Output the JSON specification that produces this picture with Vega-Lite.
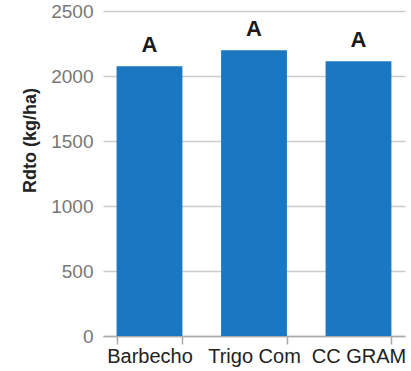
{
  "$schema": "https://vega.github.io/schema/vega-lite/v6.json",
  "width": 302,
  "height": 325,
  "autosize": {"type": "none"},
  "padding": {"left": 103, "top": 11, "right": 6, "bottom": 35},
  "background": "white",
  "config": {"view": {"stroke": null}, "font": "Liberation Sans"},
  "data": {
    "values": [
      {"trat": "Barbecho", "rdto": 2075, "letra": "A"},
      {"trat": "Trigo Com", "rdto": 2198, "letra": "A"},
      {"trat": "CC GRAM", "rdto": 2113, "letra": "A"}
    ]
  },
  "encoding": {
    "x": {
      "field": "trat",
      "type": "nominal",
      "sort": null,
      "scale": {"paddingInner": 0.37, "paddingOuter": 0.13},
      "axis": {
        "title": null,
        "labelAngle": 0,
        "labelFont": "Liberation Sans",
        "labelFontSize": 20,
        "labelColor": "#222",
        "labelPadding": 2,
        "domainColor": "#aaa",
        "domainWidth": 1.5,
        "tickColor": "#aaa",
        "tickWidth": 1.5,
        "tickSize": 8,
        "tickBand": "extent",
        "grid": false
      }
    },
    "y": {
      "field": "rdto",
      "type": "quantitative",
      "scale": {"domain": [0, 2500], "nice": false},
      "axis": {
        "title": "Rdto (kg/ha)",
        "titleFontSize": 18,
        "titleFontWeight": "bold",
        "titleColor": "#222",
        "titleAngle": -90,
        "titleX": -73,
        "titleY": 129,
        "titleAlign": "center",
        "titleBaseline": "middle",
        "values": [0, 500, 1000, 1500, 2000, 2500],
        "format": "d",
        "domain": false,
        "ticks": false,
        "grid": true,
        "gridColor": "#cccccc",
        "gridWidth": 1.5,
        "labelFontSize": 19,
        "labelColor": "#777",
        "labelPadding": 10
      }
    }
  },
  "layer": [
    {"mark": {"type": "bar", "color": "#1a78c2"}},
    {
      "mark": {"type": "text", "dy": -14, "baseline": "alphabetic", "fontSize": 22, "fontWeight": "bold", "color": "#1a1a1a"},
      "encoding": {"text": {"field": "letra"}}
    }
  ]
}
